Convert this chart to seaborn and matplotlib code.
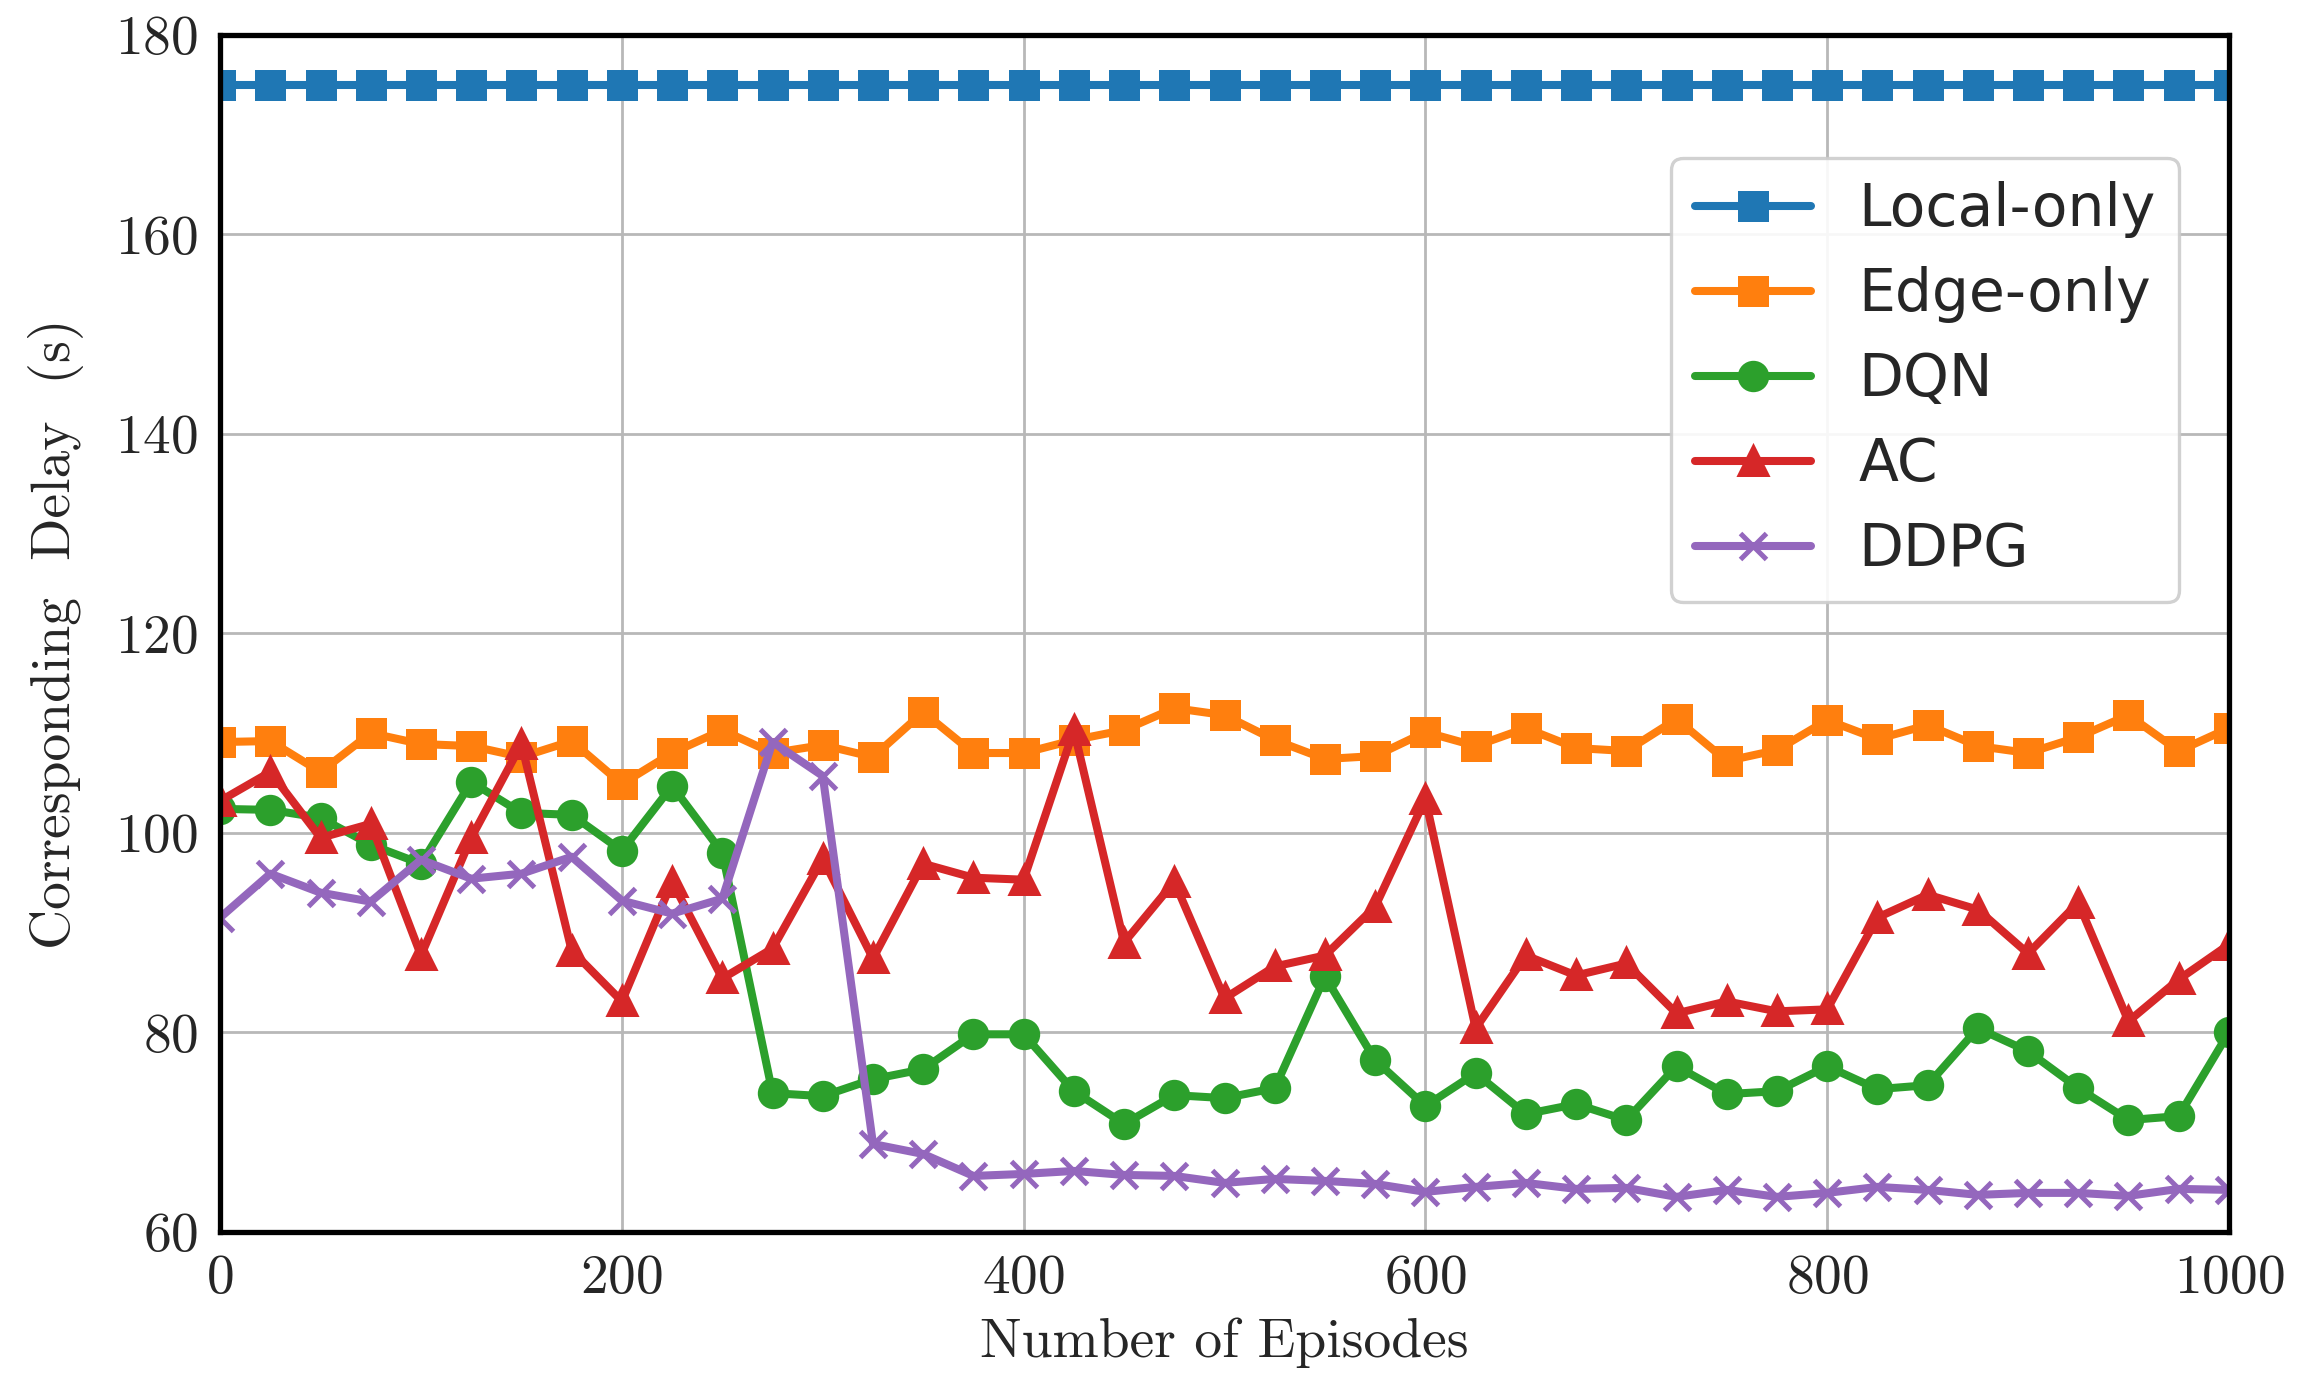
import matplotlib
matplotlib.use("Agg")
import matplotlib.pyplot as plt
import numpy as np
import pandas as pd
import seaborn as sns

episodes = list(range(0, 1001, 25))

local_only = [175.0] * len(episodes)

edge_only = [109.1, 109.2, 106.1, 110.0, 108.9, 108.7, 107.6, 109.2, 104.9, 108.0,
             110.3, 108.0, 108.8, 107.6, 112.1, 108.0, 108.0, 109.3, 110.3, 112.5,
             111.8, 109.3, 107.4, 107.7, 110.1, 108.7, 110.5, 108.5, 108.2, 111.4,
             107.2, 108.3, 111.3, 109.4, 110.8, 108.7, 108.0, 109.6, 111.8, 108.2,
             110.5]

dqn = [102.4, 102.3, 101.5, 98.8, 96.9, 105.1, 102.0, 101.8, 98.2, 104.7,
       98.0, 73.9, 73.6, 75.3, 76.3, 79.8, 79.8, 74.1, 70.8, 73.7,
       73.4, 74.4, 85.6, 77.2, 72.6, 75.9, 71.8, 72.8, 71.2, 76.6,
       73.8, 74.1, 76.6, 74.3, 74.7, 80.4, 78.1, 74.4, 71.2, 71.6,
       80.0]

ac = [103.2, 106.1, 99.5, 100.9, 87.7, 99.5, 108.9, 88.2, 83.1, 95.1,
      85.4, 88.4, 97.4, 87.4, 96.9, 95.5, 95.3, 110.3, 89.0, 95.1,
      83.4, 86.6, 87.7, 92.6, 103.4, 80.4, 87.7, 85.7, 86.9, 81.9,
      83.1, 82.1, 82.3, 91.5, 93.8, 92.3, 87.9, 93.0, 81.1, 85.3,
      88.8]

ddpg = [91.5, 95.9, 94.0, 93.1, 97.3, 95.4, 95.9, 97.6, 93.2, 91.9,
        93.4, 109.1, 105.7, 68.8, 67.8, 65.6, 65.8, 66.1, 65.7, 65.6,
        64.9, 65.3, 65.1, 64.8, 64.0, 64.5, 64.9, 64.3, 64.4, 63.5,
        64.2, 63.5, 63.9, 64.5, 64.2, 63.7, 63.9, 63.9, 63.6, 64.3,
        64.2]

methods = ["Local-only", "Edge-only", "DQN", "AC", "DDPG"]
series = [local_only, edge_only, dqn, ac, ddpg]
markers = ["s", "s", "o", "^", "x"]

sns.set_style("whitegrid")
plt.rcParams["axes.formatter.use_mathtext"] = True

colors = sns.color_palette("tab10", 5)

fig = plt.figure(figsize=(11.525, 6.975), dpi=200)
ax = fig.add_axes([0.0955, 0.117, 0.8715, 0.858])

for name, vals, mk, col in zip(methods, series, markers, colors):
    sns.lineplot(x=episodes, y=vals, label=name, color=col, marker=mk,
                 linewidth=2.9, markersize=9.5, markeredgewidth=1.8,
                 markeredgecolor=col, ax=ax)

ax.set_xlim(0, 1000)
ax.set_ylim(60, 180)
ax.set_xticks([0, 200, 400, 600, 800, 1000])
ax.set_yticks([60, 80, 100, 120, 140, 160, 180])
ax.grid(True, color="#b8b8b8", linewidth=1.0)
for s in ax.spines.values():
    s.set_color("black")
    s.set_linewidth(1.9)

ax.tick_params(axis="both", labelsize=20, length=0, pad=8)
for lab in ax.get_xticklabels() + ax.get_yticklabels():
    lab.set_family("cmr10")
ax.set_xlabel("Number of Episodes", fontsize=20, family="cmr10", labelpad=5)
ax.set_ylabel("Corresponding  Delay  (s)", fontsize=20, family="cmr10", labelpad=11)

leg = ax.legend(loc="upper right", bbox_to_anchor=(0.975, 0.897), borderaxespad=0,
                fontsize=21, frameon=True, handlelength=2.0, labelspacing=0.48,
                borderpad=0.4, handletextpad=0.8)
leg.get_frame().set_edgecolor("#cccccc")
leg.get_frame().set_linewidth(1.2)
leg.get_frame().set_alpha(0.9)
for t in leg.get_texts():
    t.set_family("DejaVu Sans")

fig.savefig("out.png", dpi=200)
